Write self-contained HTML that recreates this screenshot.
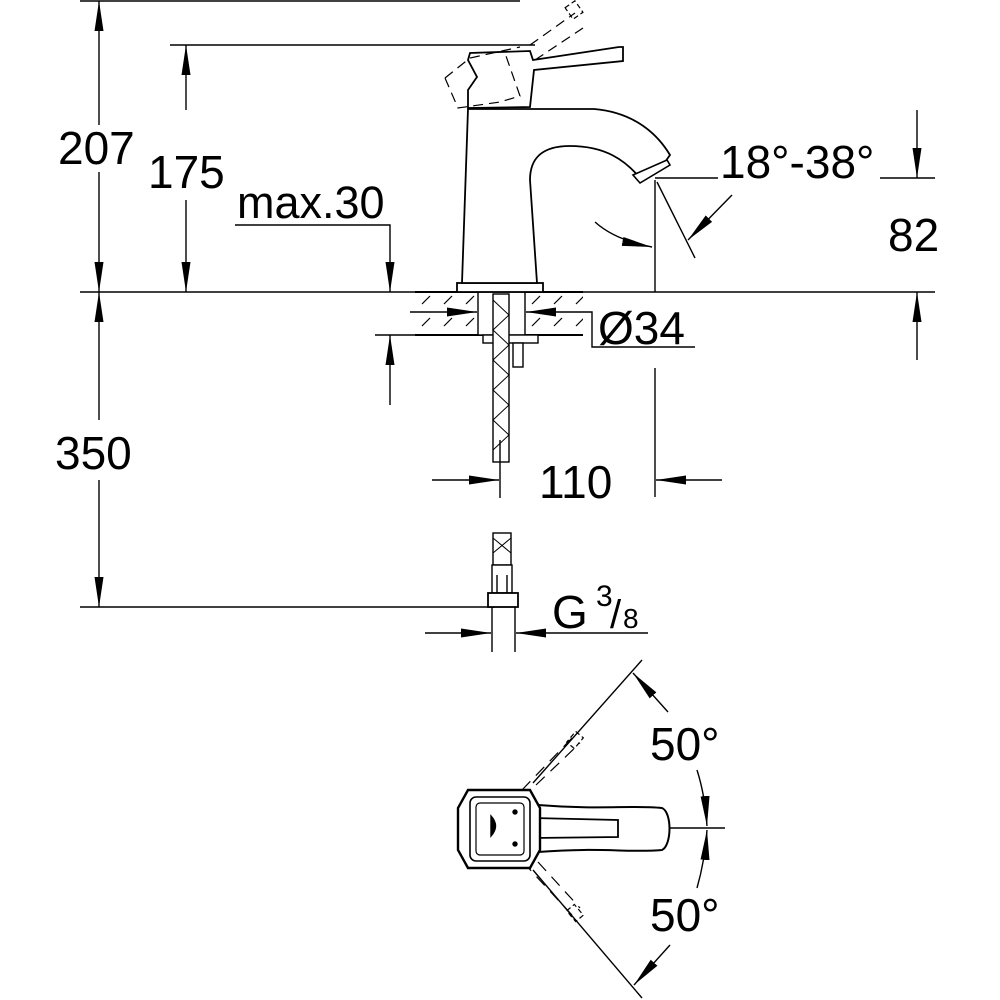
<!DOCTYPE html>
<html><head><style>html,body{margin:0;padding:0;background:#fff}svg{display:block}text{font-family:"Liberation Sans",sans-serif;fill:#000}</style></head>
<body>
<svg width="1000" height="1000" viewBox="0 0 1000 1000" xmlns="http://www.w3.org/2000/svg">
<defs>
<marker id="a" viewBox="0 0 30 10" refX="30" refY="5" markerWidth="30" markerHeight="10" markerUnits="userSpaceOnUse" orient="auto"><path d="M0,0.5 L30,5 L0,9.5z" fill="#000"/></marker>
<pattern id="h" width="22" height="22" patternUnits="userSpaceOnUse"><line x1="4" y1="18" x2="12" y2="10" stroke="#000" stroke-width="1.2"/></pattern>
</defs>
<g stroke="#000" stroke-width="1.4" fill="none">
<line x1="80" y1="1" x2="520" y2="1"/>
<line x1="170" y1="45" x2="535" y2="45"/>
<line x1="80" y1="292" x2="935" y2="292"/>
<line x1="80" y1="607" x2="495" y2="607"/>
<line x1="99" y1="60" x2="99" y2="1" marker-end="url(#a)"/>
<line x1="99" y1="230" x2="99" y2="292" marker-end="url(#a)"/>
<line x1="99" y1="60" x2="99" y2="125"/><line x1="99" y1="172" x2="99" y2="230"/>
<line x1="186" y1="110" x2="186" y2="45" marker-end="url(#a)"/>
<line x1="186" y1="200" x2="186" y2="292" marker-end="url(#a)"/>
<line x1="99" y1="420" x2="99" y2="292" marker-end="url(#a)"/>
<line x1="99" y1="480" x2="99" y2="607" marker-end="url(#a)"/>
<polyline points="235,225 390,225 390,292" marker-end="url(#a)"/>
<line x1="390" y1="405" x2="390" y2="335" marker-end="url(#a)"/>
<line x1="375" y1="335" x2="583" y2="335"/>
<rect x="415" y="292" width="168" height="43" fill="url(#h)" stroke="none"/>
<line x1="415" y1="292" x2="583" y2="292" stroke-width="2"/>
<line x1="415" y1="335" x2="583" y2="335" stroke-width="2"/>
<rect x="478" y="292" width="47" height="43" fill="#fff"/>
<rect x="483" y="335" width="55" height="8" fill="#fff"/>
<rect x="493" y="294" width="16" height="168" fill="#fff"/>
<path d="M493,300 L509,315 L493,330 L509,345 L493,360 L509,375 L493,390 L509,405 L493,420 L509,435 L493,450" stroke-width="1"/>
<rect x="513" y="343" width="10" height="24" fill="#fff"/>
<line x1="410" y1="312" x2="477" y2="312" marker-end="url(#a)"/>
<line x1="560" y1="312" x2="526" y2="312" marker-end="url(#a)"/>
<polyline points="560,312 592,312 592,347 695,347"/>
<line x1="432" y1="480" x2="499" y2="480" marker-end="url(#a)"/>
<line x1="722" y1="480" x2="656" y2="480" marker-end="url(#a)"/>
<line x1="500" y1="440" x2="500" y2="498"/>
<line x1="655" y1="368" x2="655" y2="497"/>
<line x1="655" y1="180" x2="655" y2="292"/>
<line x1="917" y1="110" x2="917" y2="178" marker-end="url(#a)"/>
<line x1="880" y1="178" x2="935" y2="178"/>
<line x1="917" y1="360" x2="917" y2="292" marker-end="url(#a)"/>
<line x1="655" y1="178" x2="718" y2="178"/>
<line x1="657" y1="182" x2="695" y2="258"/>
<line x1="732" y1="195" x2="688" y2="240" marker-end="url(#a)"/>
<path d="M595,222 Q615,240 652,247" marker-end="url(#a)"/>
<rect x="457" y="283" width="86" height="9" fill="#fff" stroke-width="1.8"/>
<path d="M468,109 L594,109 C630,112 655,130 670,155 L665,162 L640,178 C625,160 605,146 570,146 C540,146 530,160 530,180 L537,283 L462,283 Z" fill="#fff" stroke-width="1.8"/>
<path d="M633,175 L667,160 L670,165 L640,183 Z" fill="#fff" stroke-width="1.6"/>
<path d="M468,108 L468,90 L477,77 L468,60 L470,53 L530,51 L533,60 L619,47 L623,47 L623,61 L534,70 L530,107 Z" fill="#fff" stroke-width="1.8"/>
<g stroke-dasharray="10,6" stroke-width="1.2">
<path d="M445,78 L470,58 L520,47 M445,78 L458,108 L500,102 L520,96 L506,56"/>
<path d="M530,45 L575,13 M535,60 L583,28"/>
</g>
<rect x="568" y="3" width="12" height="14" transform="rotate(-35 574 10)" stroke-dasharray="5,3" stroke-width="1.2"/>
<rect x="493" y="533" width="18" height="32" fill="#fff"/>
<path d="M493,538 L511,553 M511,538 L493,553" stroke-width="1"/>
<rect x="492" y="565" width="20" height="28" fill="#fff"/>
<line x1="497" y1="575" x2="497" y2="593"/><line x1="507" y1="575" x2="507" y2="593"/>
<rect x="488" y="593" width="30" height="14" fill="#fff" stroke-width="1.8"/>
<line x1="492" y1="607" x2="492" y2="652"/><line x1="515" y1="607" x2="515" y2="652"/>
<line x1="425" y1="633" x2="491" y2="633" marker-end="url(#a)"/>
<line x1="648" y1="633" x2="516" y2="633" marker-end="url(#a)"/>
<line x1="533" y1="783" x2="642" y2="660"/>
<line x1="533" y1="870" x2="642" y2="998"/>
<g stroke-dasharray="12,8" stroke-width="1.2">
<line x1="522" y1="790" x2="572" y2="738"/><line x1="536" y1="785" x2="580" y2="743"/>
<line x1="523" y1="862" x2="572" y2="915"/><line x1="538" y1="862" x2="580" y2="908"/>
</g>
<rect x="570" y="733" width="10" height="14" transform="rotate(40 575 740)" stroke-dasharray="5,3" stroke-width="1.2"/>
<rect x="570" y="906" width="10" height="14" transform="rotate(-40 575 913)" stroke-dasharray="5,3" stroke-width="1.2"/>
<line x1="625" y1="828" x2="725" y2="828"/>
<line x1="668" y1="712" x2="633" y2="673" marker-end="url(#a)"/>
<path d="M697,770 Q705,795 707,826" marker-end="url(#a)"/>
<path d="M697,888 Q705,860 707,830" marker-end="url(#a)"/>
<line x1="670" y1="945" x2="634" y2="985" marker-end="url(#a)"/>
<path d="M538,805 C600,810 630,805 662,808 C672,812 672,845 662,850 C630,853 600,847 538,852 Z" fill="#fff" stroke-width="2"/>
<path d="M533,818 L618,820 L618,837 L533,838" stroke-width="1.8"/>
<path d="M468,790 L530,790 L540,808 L540,850 L530,868 L468,868 L458,850 L458,808 Z" fill="#fff" stroke-width="2.4"/>
<rect x="470" y="797" width="60" height="64" rx="6" stroke-width="1.6"/>
<rect x="476" y="803" width="48" height="52" rx="4" stroke-width="1.2"/>
<path d="M491,816 Q500,826 491,836 Z" fill="#000"/>
<circle cx="515" cy="812" r="2" fill="#000"/><circle cx="515" cy="844" r="2" fill="#000"/>
</g>
<g font-size="46">
<text x="58" y="164">207</text>
<text x="148" y="188">175</text>
<text x="55" y="469">350</text>
<text x="539" y="498">110</text>
<text x="888" y="251">82</text>
<text x="720" y="178">18°-38°</text>
<text x="598" y="344">Ø34</text>
<text x="552" y="628">G</text>
<text x="596" y="606" font-size="30">3</text>
<text x="610" y="628" font-size="40">/</text>
<text x="623" y="628" font-size="28">8</text>
<text x="650" y="760">50°</text>
<text x="650" y="931">50°</text>
</g>
<text x="237" y="218" font-size="45">max.30</text>
</svg>
</body></html>
